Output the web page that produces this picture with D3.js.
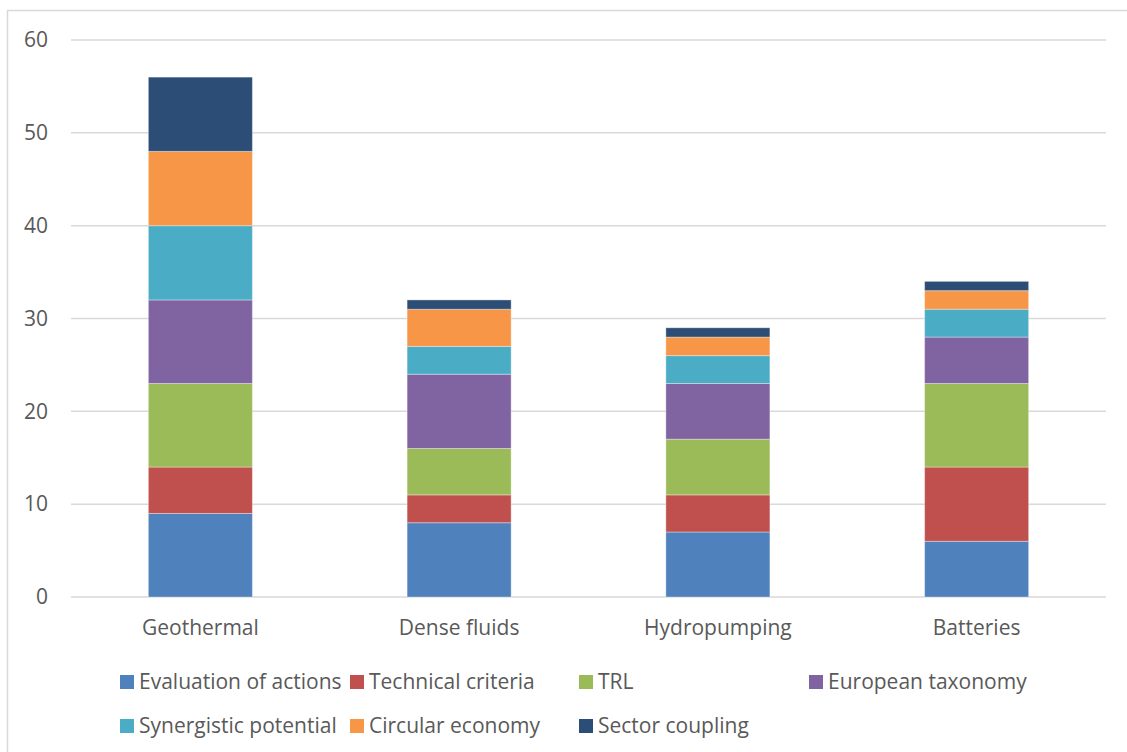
<!DOCTYPE html>
<html>
<head>
<meta charset="utf-8">
<script src="https://cdn.jsdelivr.net/npm/d3@7"></script>
<style>
  body { margin: 0; background: #fff; }
  svg { display: block; font-family: "Open Sans", "Noto Sans", sans-serif; }
</style>
</head>
<body>
<svg width="1127" height="752"></svg>
<script>
var categories = ["Geothermal", "Dense fluids", "Hydropumping", "Batteries"];
var seriesNames = ["Evaluation of actions", "Technical criteria", "TRL", "European taxonomy",
                   "Synergistic potential", "Circular economy", "Sector coupling"];
var evaluation = [9, 8, 7, 6];
var technical = [5, 3, 4, 8];
var trl = [9, 5, 6, 9];
var taxonomy = [9, 8, 6, 5];
var synergistic = [8, 3, 3, 3];
var circular = [8, 4, 2, 2];
var coupling = [8, 1, 1, 1];
var yTicks = [0, 10, 20, 30, 40, 50, 60];

var colors = ["#4F81BD", "#C0504D", "#9BBB59", "#8064A2", "#4BACC6", "#F79646", "#2C4D75"];

var svg = d3.select("svg"),
    width = +svg.attr("width"),
    height = +svg.attr("height"),
    font = "'Open Sans', 'Noto Sans', sans-serif",
    fontSize = "21px";

// chart frame
svg.append("rect")
    .attr("x", 7.5).attr("y", 10.5)
    .attr("width", width).attr("height", height)
    .attr("fill", "none")
    .attr("stroke", "#d9d9d9")
    .attr("stroke-width", 1.5);

var rows = categories.map(function(c, i) {
    return {
        category: c,
        "Evaluation of actions": evaluation[i],
        "Technical criteria": technical[i],
        "TRL": trl[i],
        "European taxonomy": taxonomy[i],
        "Synergistic potential": synergistic[i],
        "Circular economy": circular[i],
        "Sector coupling": coupling[i]
    };
});

var stacked = d3.stack().keys(seriesNames)(rows);

var x = d3.scaleBand()
    .domain(categories)
    .range([71, 1106])
    .paddingInner(0.598)
    .paddingOuter(0.299);

var y = d3.scaleLinear()
    .domain([0, 60])
    .range([597, 40]);

var color = d3.scaleOrdinal().domain(seriesNames).range(colors);

// gridlines
svg.append("g")
    .attr("class", "grid")
    .selectAll("line")
    .data(yTicks)
    .enter()
        .append("line")
        .attr("x1", 71)
        .attr("x2", 1106)
        .attr("y1", function(d) { return y(d); })
        .attr("y2", function(d) { return y(d); })
        .attr("stroke", "#d9d9d9")
        .attr("stroke-width", 1.5);

// y axis labels
var yAxis = svg.append("g")
    .attr("transform", "translate(48,0)")
    .call(d3.axisLeft(y).tickValues(yTicks).tickSize(0).tickPadding(0));
yAxis.select(".domain").remove();
yAxis.selectAll("text")
    .attr("fill", "#595959")
    .style("font-size", fontSize)
    .style("font-family", font);

// bars
svg.append("g")
    .selectAll("g")
    .data(stacked)
    .enter()
        .append("g")
        .attr("fill", function(d) { return color(d.key); })
        .selectAll("rect")
        .data(function(d) { return d; })
        .enter()
            .append("rect")
            .attr("x", function(d) { return x(d.data.category); })
            .attr("width", x.bandwidth())
            .attr("y", function(d) { return y(d[1]); })
            .attr("height", function(d) { return y(d[0]) - y(d[1]); })
            .attr("stroke", "#ffffff")
            .attr("stroke-opacity", 0.35)
            .attr("stroke-width", 1);

// x axis labels
var xAxis = svg.append("g")
    .attr("transform", "translate(0,597)")
    .call(d3.axisBottom(x).tickSize(0).tickPadding(23));
xAxis.select(".domain").remove();
xAxis.selectAll("text")
    .attr("fill", "#595959")
    .style("font-size", fontSize)
    .style("font-family", font);

// legend
var legendPos = [[120, 682], [350, 682], [579, 682], [809, 682],
                 [120, 726], [350, 726], [579, 726]];

var legend = svg.append("g")
    .attr("class", "legend")
    .selectAll("g")
    .data(seriesNames)
    .enter()
        .append("g")
        .attr("transform", function(d, i) {
            return "translate(" + legendPos[i][0] + "," + legendPos[i][1] + ")";
        });

legend.append("rect")
    .attr("x", 0).attr("y", -7)
    .attr("width", 14).attr("height", 14)
    .attr("fill", function(d) { return color(d); });

legend.append("text")
    .attr("x", 19)
    .attr("y", 0)
    .attr("dy", "0.35em")
    .attr("fill", "#595959")
    .style("font-size", fontSize)
    .style("font-family", font)
    .text(function(d) { return d; });
</script>
</body>
</html>
